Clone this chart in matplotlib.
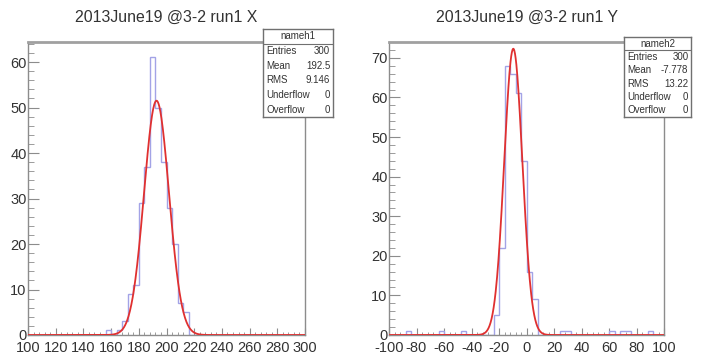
import numpy as np
import matplotlib
matplotlib.use("Agg")
import matplotlib.pyplot as plt
import matplotlib.transforms as mtrans
from matplotlib.ticker import MultipleLocator

plt.rcParams['font.family'] = ['Liberation Sans', 'DejaVu Sans']
plt.rcParams['axes.unicode_minus'] = False

# histogram X: 50 bins of width 4 over 100..300
x_edges = np.arange(100, 301, 4)
x_counts = [0, 0, 0, 0, 0, 0, 0, 0, 0, 0,
            0, 0, 0, 0, 1, 0, 1, 3, 9, 11,
            29, 37, 61, 50, 38, 28, 20, 7, 5, 0,
            0, 0, 0, 0, 0, 0, 0, 0, 0, 0,
            0, 0, 0, 0, 0, 0, 0, 0, 0, 0]
# histogram Y: 50 bins of width 4 over -100..100
y_edges = np.arange(-100, 101, 4)
y_counts = [0, 0, 0, 1, 0, 0, 0, 0, 0, 1,
            0, 0, 0, 1, 0, 0, 0, 0, 0, 5,
            22, 68, 66, 61, 44, 16, 9, 0, 0, 0,
            0, 1, 1, 0, 0, 0, 0, 0, 0, 0,
            1, 0, 1, 1, 0, 0, 0, 1, 0, 0]

# gaussian fit parameters (constant, mean, sigma)
x_fit = (51.5, 192.8, 9.0)
y_fit = (72.3, -9.6, 6.6)

titles = ["2013June19 @3-2 run1 X", "2013June19 @3-2 run1 Y"]
stat_names = ["nameh1", "nameh2"]
stat_rows = [
    [("Entries", "300"), ("Mean", "192.5"), ("RMS", "9.146"),
     ("Underflow", "0"), ("Overflow", "0")],
    [("Entries", "300"), ("Mean", "-7.778"), ("RMS", "13.22"),
     ("Underflow", "0"), ("Overflow", "0")],
]

W, H = 702, 358
fig = plt.figure(figsize=(W / 100, H / 100), dpi=100)


def px(x0, y0, x1, y1):
    # pixel box -> figure fraction rect
    return [x0 / W, 1 - y1 / H, (x1 - x0) / W, (y1 - y0) / H]


hist_col = "#a3a3e6"
fit_col = "#e03030"
frame_col = "#8c8c8c"
text_col = "#333333"

panels = [
    (px(28, 42, 305, 335), x_edges, x_counts, x_fit, 64.4, (263, 29, 333, 117)),
    (px(389, 42, 664, 335), y_edges, y_counts, y_fit, 74.0, (624, 37, 691, 117)),
]

for i, (rect, edges, counts, fit, ytop, box) in enumerate(panels):
    ax = fig.add_axes(rect)
    ax.stairs(counts, edges, color=hist_col, lw=1.0, zorder=2)
    xx = np.linspace(edges[0], edges[-1], 800)
    a, m, s = fit
    ax.plot(xx, a * np.exp(-0.5 * ((xx - m) / s) ** 2), color=fit_col, lw=1.3, zorder=3)
    ax.set_xlim(edges[0], edges[-1])
    ax.set_ylim(0, ytop)
    ax.xaxis.set_major_locator(MultipleLocator(20))
    ax.xaxis.set_minor_locator(MultipleLocator(4))
    ax.yaxis.set_major_locator(MultipleLocator(10))
    ax.yaxis.set_minor_locator(MultipleLocator(2))
    ax.tick_params(which='both', direction='in', top=False, right=False,
                   colors=frame_col, labelcolor=text_col, labelsize=10.5)
    ax.tick_params(axis='y', which='major', length=8, pad=1.0)
    ax.tick_params(axis='y', which='minor', length=4)
    ax.tick_params(axis='x', which='major', length=5, pad=4.0)
    ax.tick_params(axis='x', which='minor', length=2.5)
    for sp in ax.spines.values():
        sp.set_color(frame_col)
        sp.set_linewidth(1.0)
    ax.spines['top'].set_linewidth(2.0)
    ax.spines['top'].set_color('#a0a0a0')

    # lift the y "0" label a little so it sits on the zero line
    fig.canvas.draw()
    lab0 = ax.get_yticklabels()[0]
    lab0.set_transform(lab0.get_transform() +
                       mtrans.ScaledTranslation(0, 2.5 / 72, fig.dpi_scale_trans))

    cx = (rect[0] + rect[2] / 2) * W
    fig.text(cx / W, 1 - 17 / H, titles[i], ha='center', va='center',
             fontsize=11.4, color=text_col)

    # stats box
    bx0, by0, bx1, by1 = box
    sax = fig.add_axes(px(bx0, by0, bx1, by1))
    sax.set_xlim(0, 1)
    sax.set_ylim(0, 1)
    sax.set_xticks([])
    sax.set_yticks([])
    for sp in sax.spines.values():
        sp.set_color('#707070')
        sp.set_linewidth(1.0)
    nrow = 6
    h = 1 / nrow
    sax.axhline(1 - h, color='#707070', lw=0.8)
    sax.text(0.5, 1 - h / 2, stat_names[i], ha='center', va='center',
             fontsize=7, color=text_col)
    for j, (k, v) in enumerate(stat_rows[i]):
        yy = 1 - h * (j + 1.5)
        sax.text(0.05, yy, k, ha='left', va='center', fontsize=7, color=text_col)
        sax.text(0.96, yy, v, ha='right', va='center', fontsize=7, color=text_col)

fig.savefig("out.png", dpi=100)
